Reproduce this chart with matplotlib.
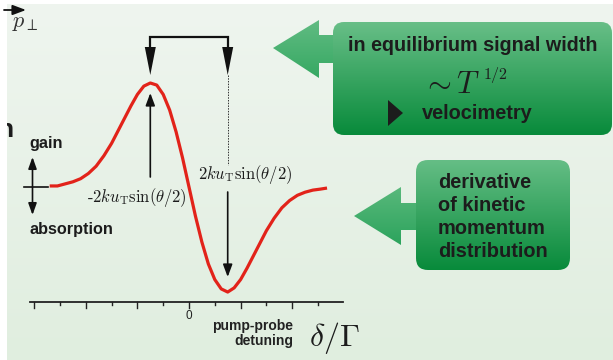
import numpy as np
import matplotlib
matplotlib.use("Agg")
import matplotlib.pyplot as plt
from matplotlib.patches import FancyBboxPatch, Polygon, Rectangle
from matplotlib.colors import LinearSegmentedColormap

plt.rcParams['mathtext.fontset'] = 'cm'

# Pump-probe signal: detuning (tick units) and normalised signal (gain > 0)
detuning = [-5.40, -5.10, -4.80, -4.50, -4.20, -3.90, -3.60, -3.30, -3.00, -2.75,
            -2.50, -2.25, -2.00, -1.75, -1.50, -1.25, -1.00, -0.75, -0.50, -0.25,
            0.00, 0.25, 0.50, 0.75, 1.00, 1.25, 1.50, 1.75, 2.00, 2.25,
            2.50, 2.75, 3.00, 3.30, 3.60, 3.90, 4.20, 4.50, 4.80, 5.10, 5.35]
signal = [0.01, 0.01, 0.03, 0.05, 0.08, 0.13, 0.20, 0.30, 0.42, 0.54,
          0.66, 0.78, 0.89, 0.97, 1.00, 0.98, 0.89, 0.74, 0.53, 0.28,
          0.00, -0.28, -0.53, -0.74, -0.89, -0.98, -1.01, -0.97, -0.89, -0.78,
          -0.66, -0.54, -0.42, -0.30, -0.20, -0.13, -0.08, -0.05, -0.03, -0.02, -0.01]
tick_positions = list(range(-6, 6))
long_ticks = [-6, -4, -2, 0, 2, 4]
zero_label = "0"

box1_lines = ["in equilibrium signal width", r"$\sim T$", r"$1/2$", "velocimetry"]
box2_lines = ["derivative", "of kinetic", "momentum", "distribution"]

W, H = 613, 360
X0, XS = 189.0, 25.8     # pixel of zero detuning, pixels per tick
Y0, YS = 187.0, 104.0    # pixel of zero signal, pixels per unit

fig = plt.figure(figsize=(W / 100, H / 100), dpi=100, facecolor='white')

deco = fig.add_axes([0, 0, 1, 1])
deco.set_autoscale_on(False)
deco.set_xlim(0, W)
deco.set_ylim(H, 0)
deco.axis('off')

ax = fig.add_axes([0, 0, 1, 1])
ax.set_autoscale_on(False)
ax.set_xlim(-X0 / XS, (W - X0) / XS)
ax.set_ylim(-(H - Y0) / YS, Y0 / YS)
ax.axis('off')
ax.patch.set_alpha(0)


def to_px(x):
    return X0 + XS * x


def gradient_patch(patch, top, bottom, z):
    """Fill a patch with a vertical colour gradient (top colour at the visual top)."""
    patch.set_facecolor('none')
    patch.set_edgecolor('none')
    deco.add_patch(patch)
    ext = patch.get_extents().transformed(deco.transData.inverted())
    cmap = LinearSegmentedColormap.from_list('g', [top, bottom])
    grad = np.linspace(0, 1, 256).reshape(-1, 1)
    ylo, yhi = min(ext.y0, ext.y1), max(ext.y0, ext.y1)
    im = deco.imshow(grad, cmap=cmap, aspect='auto', origin='upper',
                     extent=(ext.x0 - 1, ext.x1 + 1, yhi + 1, ylo - 1),
                     zorder=z, interpolation='bilinear')
    im.set_clip_path(patch)
    return im


# background panel
bg = Rectangle((7, 4), W - 7, H - 4)
gradient_patch(bg, '#eff5ef', '#e0eedf', 0)

# clipped bold letter at the left edge
deco.text(13, 137, "n", fontsize=19, fontweight='bold', family='Liberation Sans',
          color='#1c1c1c', ha='right', va='baseline', zorder=1)
deco.add_patch(Rectangle((0, 0), 7, H, facecolor='white', edgecolor='none', zorder=2))

# green callout 1
arrow1 = Polygon([(273, 48), (319, 20), (319, 35), (340, 35), (340, 63), (319, 63), (319, 78)],
                 closed=True)
gradient_patch(arrow1, '#62bc83', '#35a862', 3)
box1 = FancyBboxPatch((333, 22), 279, 113, boxstyle='round,pad=0,rounding_size=11')
gradient_patch(box1, '#69bf88', '#078a3a', 4)

# green callout 2
arrow2 = Polygon([(354, 216), (401, 187), (401, 203), (422, 203), (422, 230), (401, 230), (401, 245)],
                 closed=True)
gradient_patch(arrow2, '#5ab97c', '#2ba35c', 3)
box2 = FancyBboxPatch((416, 160), 154, 110, boxstyle='round,pad=0,rounding_size=12')
gradient_patch(box2, '#66be86', '#078a3a', 4)

tc = '#1c1c1c'
sans = 'Liberation Sans'
deco.text(473, 50.7, box1_lines[0], fontsize=14.2, fontweight='bold', family=sans,
          color=tc, ha='center', va='baseline', zorder=6)
deco.text(422, 93, box1_lines[1], fontsize=22, color=tc, ha='left', va='baseline', zorder=6)
deco.text(483, 79, box1_lines[2], fontsize=11.5, color=tc, ha='left', va='baseline', zorder=6)
deco.add_patch(Polygon([(388, 100), (388, 126), (403, 113)], closed=True,
                       facecolor=tc, edgecolor='none', zorder=6))
deco.text(422, 119, box1_lines[3], fontsize=14.4, fontweight='bold', family=sans,
          color=tc, ha='left', va='baseline', zorder=6)
for line, yb in zip(box2_lines, [187.7, 210.7, 233.5, 256.7]):
    deco.text(438, yb, line, fontsize=14.4, fontweight='bold', family=sans,
              color=tc, ha='left', va='baseline', zorder=6)

# signal curve
ax.plot(detuning, signal, color='#e2231a', lw=2.3, solid_capstyle='butt',
        solid_joinstyle='round', zorder=5)

# detuning axis with ticks
axis_y = (Y0 - 302) / YS
ax.plot([-6.16, 5.97], [axis_y, axis_y], color='#222222', lw=1.3, zorder=5)
for t in tick_positions:
    ln = 5.5 / YS if t in long_ticks else 3.0 / YS
    ax.plot([t, t], [axis_y, axis_y - ln], color='#222222', lw=1.0, zorder=5)
ax.text(0, (Y0 - 319) / YS, zero_label, fontsize=8.5, family=sans, color='#222222',
        ha='center', va='baseline', zorder=6)

# peak positions taken from the curve
i_max = int(np.argmax(signal))
i_min = int(np.argmin(signal))
xL = to_px(detuning[i_max])
xR = to_px(detuning[i_min])

# bracket joining the gain and absorption extrema
deco.plot([xL, xL, xR, xR], [48, 37, 37, 48], color='#111111', lw=1.6, zorder=6,
          solid_joinstyle='miter')
for xx in (xL, xR):
    deco.add_patch(Polygon([(xx - 5.5, 47), (xx + 5.5, 47), (xx, 75)], closed=True,
                           facecolor='#111111', edgecolor='none', zorder=6))
deco.plot([xR, xR], [75, 165], color='#333333', lw=0.7, ls=(0, (1.5, 1.3)), zorder=6)

head = dict(arrowstyle='-|>,head_length=0.75,head_width=0.28', lw=1.2, color='#111111',
            shrinkA=0, shrinkB=0)
deco.annotate('', xy=(xL, 93), xytext=(xL, 177), arrowprops=head, zorder=6)
deco.annotate('', xy=(xR, 277), xytext=(xR, 192), arrowprops=head, zorder=6)

deco.text(187, 202, r'-$2ku_{\mathrm{T}}\sin(\theta/2)$', fontsize=12, family='cmr10',
          color=tc, ha='right', va='baseline', zorder=6)
deco.text(198, 179, r'$2ku_{\mathrm{T}}\sin(\theta/2)$', fontsize=12,
          color=tc, ha='left', va='baseline', zorder=6)

# gain / absorption indicator
deco.plot([24, 48], [187, 187], color='#111111', lw=1.2, zorder=6)
both = dict(arrowstyle='<|-|>,head_length=0.7,head_width=0.25', lw=1.2, color='#111111',
            shrinkA=0, shrinkB=0)
deco.annotate('', xy=(32.5, 157), xytext=(32.5, 215), arrowprops=both, zorder=6)
deco.text(29, 148, "gain", fontsize=11.7, fontweight='bold', family=sans, color=tc,
          ha='left', va='baseline', zorder=6)
deco.text(29, 234, "absorption", fontsize=11.7, fontweight='bold', family=sans, color=tc,
          ha='left', va='baseline', zorder=6)

# momentum symbol
deco.annotate('', xy=(26, 10), xytext=(4, 10),
              arrowprops=dict(arrowstyle='-|>,head_length=0.8,head_width=0.3', lw=1.3,
                              color='#111111', shrinkA=0, shrinkB=0), zorder=6)
deco.text(12, 27, r'$p_\perp$', fontsize=16, color='#333333', ha='left', va='baseline', zorder=6)

# axis caption
deco.text(293, 330, "pump-probe", fontsize=10, fontweight='bold', family=sans, color='#222222',
          ha='right', va='baseline', zorder=6)
deco.text(293, 345, "detuning", fontsize=10, fontweight='bold', family=sans, color='#222222',
          ha='right', va='baseline', zorder=6)
deco.text(309, 346, r'$\delta/\Gamma$', fontsize=23, color=tc, ha='left', va='baseline', zorder=6)

fig.savefig('out.png', dpi=100, facecolor='white')
